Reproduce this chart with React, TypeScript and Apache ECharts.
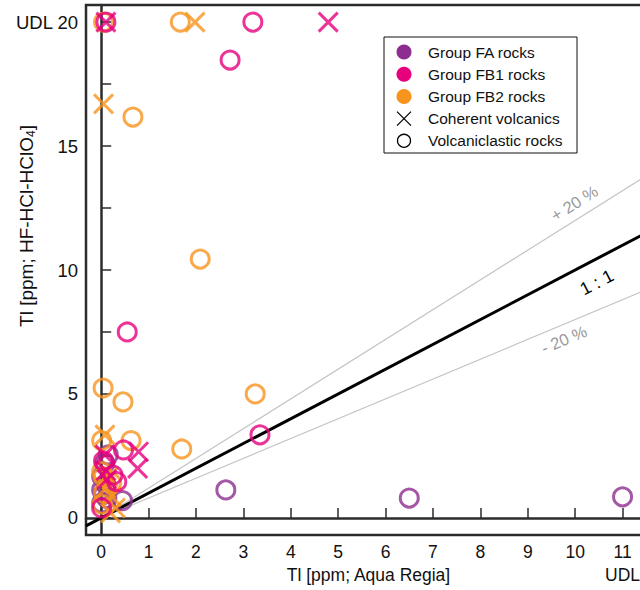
import React, { useEffect, useRef } from "react";
import * as echarts from "echarts";

// ---- Data (Tl ppm: x = Aqua Regia, y = HF-HCl-HClO4) ----
const FA_CIRCLES: number[][] = [
  [0.01, 1.13], [0.12, 0.79], [0.01, 0.6], [0.45, 0.7], [0.15, 2.54], [0.08, 2.2],
  [0.01, 1.67], [0.05, 0.95], [0.1, 1.35], [2.63, 1.13], [6.5, 0.8], [11.0, 0.85],
];
const FB1_CIRCLES: number[][] = [
  [0.1, 20], [3.2, 20], [2.72, 18.47], [0.55, 7.5], [3.35, 3.35], [0.47, 2.74],
  [0.25, 1.73], [0.33, 1.46], [0.01, 0.4], [0.05, 2.3],
];
const FB1_CROSSES: number[][] = [
  [0.1, 20], [4.79, 20], [0.79, 2.67], [0.77, 2.0], [0.08, 2.54], [0.1, 1.9], [0.12, 1.55],
];
const FB2_CIRCLES: number[][] = [
  [0.05, 20], [1.67, 20], [0.67, 16.17], [2.09, 10.44], [0.04, 5.24], [0.46, 4.68],
  [3.25, 5.0], [1.7, 2.78], [0.01, 3.12], [0.63, 3.12], [0.01, 1.87], [0.04, 1.67],
  [0.22, 1.4], [0.05, 1.0], [0.02, 0.55],
];
const FB2_CROSSES: number[][] = [
  [1.98, 20], [0.05, 16.7], [0.08, 3.35], [0.15, 1.65], [0.22, 0.86], [0.3, 0.4],
  [0.1, 1.2], [0.2, 0.2],
];

const X_TICKS = [0, 1, 2, 3, 4, 5, 6, 7, 8, 9, 10, 11];
const Y_TICKS = [0, 2.5, 5, 7.5, 10, 12.5, 15, 17.5, 20];
const Y_LABELS = [0, 5, 10, 15, 20];

const REF_LINES = [
  { name: "1 : 1", slope: 1, labelX: 10.25, offset: -21, color: "#000", width: 3, text: "#000", fromMin: true, size: 18 },
  { name: "+ 20 %", slope: 1.2, labelX: 10.15, offset: 15, color: "#c4c4c4", width: 1.2, text: "#999", fromMin: false, size: 16.5 },
  { name: "- 20 %", slope: 0.8, labelX: 9.65, offset: -14, color: "#c4c4c4", width: 1.2, text: "#999", fromMin: false, size: 16.5 },
];

const LEGEND_ITEMS = [
  { label: "Group FA rocks", kind: "dot", color: "#8C2D8F" },
  { label: "Group FB1 rocks", kind: "dot", color: "#E6007E" },
  { label: "Group FB2 rocks", kind: "dot", color: "#F7941D" },
  { label: "Coherent volcanics", kind: "cross", color: "#000" },
  { label: "Volcaniclastic rocks", kind: "ring", color: "#000" },
];

const X_MIN = -0.32;
const X_MAX = 11.6;
const Y_MIN = -0.69;
const Y_MAX = 20.69;

const FONT = "Liberation Sans, Arial, sans-serif";
const CROSS = "path://M0 0L20 20M20 0L0 20";

export default function App() {
  const ref = useRef<HTMLDivElement>(null);

  useEffect(() => {
    if (!ref.current) return;
    const chart = echarts.init(ref.current, undefined, { renderer: "svg" });

    const ring = (name: string, data: number[][], color: string) => ({
      name,
      type: "scatter",
      data,
      symbol: "circle",
      symbolSize: 18,
      itemStyle: { color: "rgba(0,0,0,0)", borderColor: color, borderWidth: 3 },
      z: 5,
    });
    const cross = (name: string, data: number[][], color: string) => ({
      name,
      type: "scatter",
      data,
      symbol: CROSS,
      symbolSize: 19,
      itemStyle: { color: "rgba(0,0,0,0)", borderColor: color, borderWidth: 3 },
      z: 5,
    });

    const lineSeries = REF_LINES.map((l) => {
      const x0 = l.fromMin ? X_MIN : 0;
      return {
        name: l.name,
        type: "line",
        data: [[x0, l.slope * x0], [X_MAX, l.slope * X_MAX]],
        symbol: "none",
        lineStyle: { color: l.color, width: l.width },
        z: l.fromMin ? 3 : 2,
        silent: true,
      };
    });

    chart.setOption({
      animation: false,
      grid: {
        left: 86, top: 5, right: 49, bottom: 55,
        outerBoundsMode: "none",
        containLabel: false,
        show: true, borderColor: "#2b2b2b", borderWidth: 2.5,
      },
      xAxis: {
        type: "value",
        min: X_MIN,
        max: X_MAX,
        name: "Tl [ppm; Aqua Regia]",
        nameLocation: "middle",
        nameGap: 31,
        nameMoveOverlap: false,
        nameTextStyle: { fontFamily: FONT, fontSize: 17.5, color: "#111" },
        axisLine: { show: true, lineStyle: { color: "#2b2b2b", width: 2.5 } },
        axisTick: { show: true, inside: true, length: 10, customValues: X_TICKS, lineStyle: { color: "#2b2b2b", width: 1.5 } },
        axisLabel: {
          customValues: X_TICKS,
          fontFamily: FONT, fontSize: 17.5, color: "#111", margin: 5, lineHeight: 23,
          formatter: (v: number) => (v === 11 ? "11\nUDL" : String(v)),
        },
        splitLine: { show: false },
      },
      yAxis: {
        type: "value",
        min: Y_MIN,
        max: Y_MAX,
        name: "{n|Tl [ppm; HF-HCl-HClO}{s|4}{n|]}",
        nameLocation: "middle",
        nameRotate: 90,
        nameGap: 60,
        nameMoveOverlap: false,
        nameTextStyle: {
          fontFamily: FONT, color: "#111", verticalAlign: "middle",
          padding: [0, 0, 0, 88],
          rich: {
            n: { fontFamily: FONT, fontSize: 19, color: "#111", lineHeight: 22 },
            s: { fontFamily: FONT, fontSize: 12, color: "#111", lineHeight: 12, verticalAlign: "bottom", padding: [8, 0, 0, 0] },
          },
        },
        axisLine: { show: true, lineStyle: { color: "#2b2b2b", width: 2.5 } },
        axisTick: { show: true, inside: true, length: 10, customValues: Y_TICKS, lineStyle: { color: "#2b2b2b", width: 1.5 } },
        axisLabel: {
          customValues: Y_LABELS,
          fontFamily: FONT, fontSize: 18.5, color: "#111", margin: 8,
          formatter: (v: number) => (v === 20 ? "UDL 20" : String(v)),
        },
        splitLine: { show: false },
      },
      series: [
        ...lineSeries,
        ring("FA volcaniclastic", FA_CIRCLES, "#8C2D8F"),
        ring("FB2 volcaniclastic", FB2_CIRCLES, "#F7941D"),
        cross("FB2 coherent", FB2_CROSSES, "#F7941D"),
        ring("FB1 volcaniclastic", FB1_CIRCLES, "#E6007E"),
        cross("FB1 coherent", FB1_CROSSES, "#E6007E"),
      ],
    });

    // Labels along the reference lines, placed through the chart's scales
    const graphics: any[] = [];
    REF_LINES.forEach((l) => {
      const p = chart.convertToPixel({ gridIndex: 0 }, [l.labelX, l.slope * l.labelX]) as number[];
      const q = chart.convertToPixel({ gridIndex: 0 }, [l.labelX + 1, l.slope * (l.labelX + 1)]) as number[];
      const ang = Math.atan2(p[1] - q[1], q[0] - p[0]);
      const nx = -Math.sin(ang);
      const ny = -Math.cos(ang);
      graphics.push({
        type: "text",
        x: p[0] + nx * l.offset,
        y: p[1] + ny * l.offset,
        rotation: ang,
        z: 10,
        style: {
          text: l.name, fill: l.text, fontFamily: FONT, fontSize: l.size,
          align: "center", verticalAlign: "middle",
        },
      });
    });

    // Legend box
    const LX = 384, LY = 37, LW = 193, LH = 116, ROW0 = 52, ROW = 22.2;
    graphics.push({
      type: "rect", z: 20,
      shape: { x: LX, y: LY, width: LW, height: LH },
      style: { fill: "#fff", stroke: "#111", lineWidth: 1 },
    });
    LEGEND_ITEMS.forEach((it, i) => {
      const cy = ROW0 + i * ROW;
      const cx = 404;
      if (it.kind === "dot") {
        graphics.push({ type: "circle", z: 21, shape: { cx, cy, r: 7.5 }, style: { fill: it.color } });
      } else if (it.kind === "ring") {
        graphics.push({ type: "circle", z: 21, shape: { cx, cy, r: 6.5 }, style: { fill: "none", stroke: it.color, lineWidth: 1.3 } });
      } else {
        graphics.push({ type: "line", z: 21, shape: { x1: cx - 7, y1: cy - 7, x2: cx + 7, y2: cy + 7 }, style: { stroke: it.color, lineWidth: 1.3 } });
        graphics.push({ type: "line", z: 21, shape: { x1: cx - 7, y1: cy + 7, x2: cx + 7, y2: cy - 7 }, style: { stroke: it.color, lineWidth: 1.3 } });
      }
      graphics.push({
        type: "text", z: 21, x: 428, y: cy,
        style: { text: it.label, fill: "#111", fontFamily: FONT, fontSize: 15.5, verticalAlign: "middle", align: "left" },
      });
    });

    chart.setOption({ graphic: graphics });

    return () => chart.dispose();
  }, []);

  return (
    <div style={{ position: "fixed", left: 0, top: 0, width: 640, height: 590, overflow: "hidden", background: "#fff" }}>
      <div ref={ref} style={{ width: 700, height: 590 }} />
    </div>
  );
}
